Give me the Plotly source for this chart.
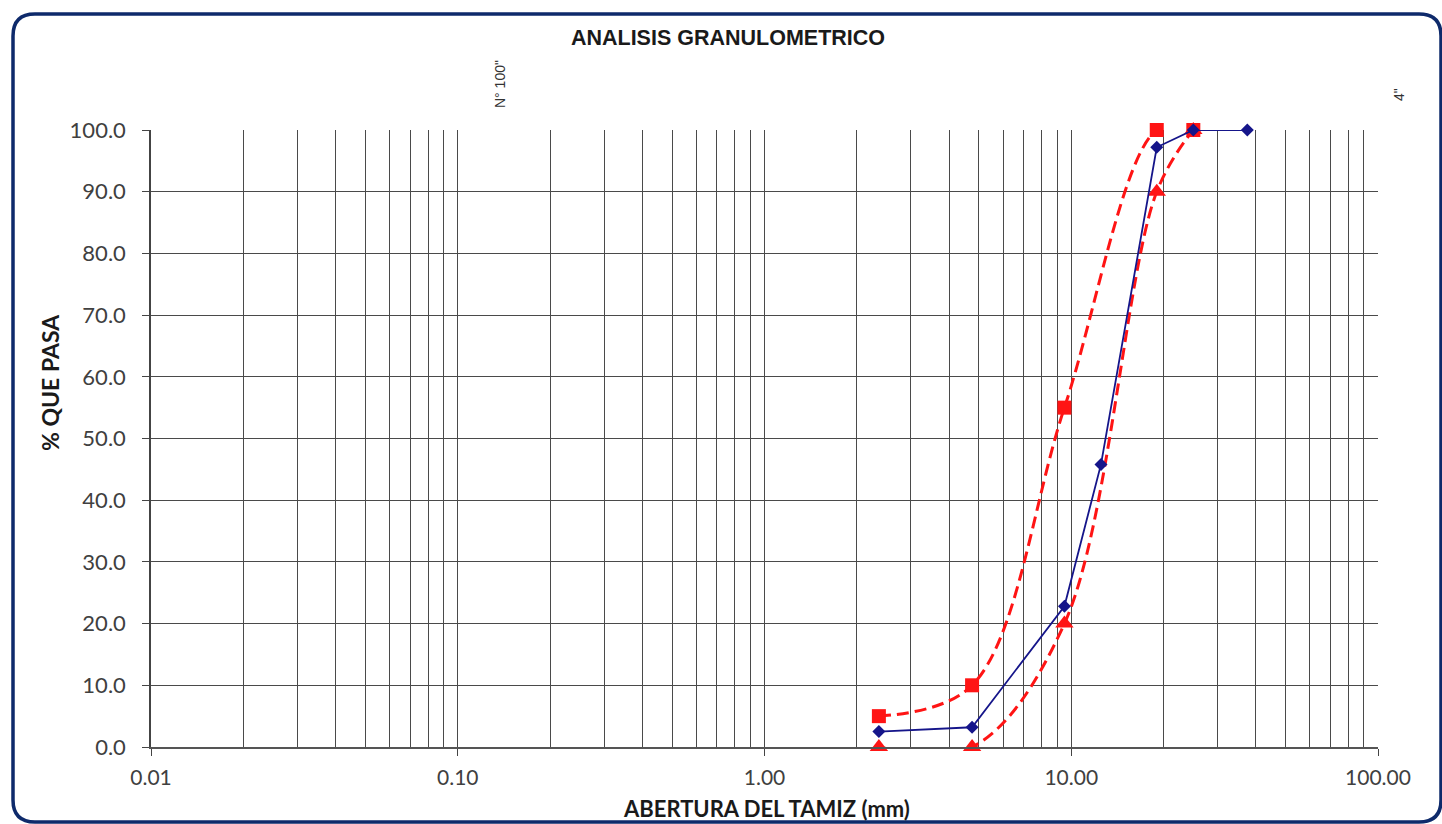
import plotly.graph_objects as go

# ---- data ----
abertura_muestra = [2.36, 4.75, 9.5, 12.5, 19.0, 25.0, 37.5]
pasa_muestra = [2.5, 3.2, 22.8, 45.8, 97.2, 100.0, 100.0]

abertura_lim = [2.36, 4.75, 9.5, 19.0, 25.0]
lim_superior = [5.0, 10.0, 55.0, 100.0, 100.0]
lim_inferior = [0.0, 0.0, 20.0, 90.0, 100.0]

x_tickvals = [0.01, 0.1, 1, 10, 100]
x_ticktext = ["0.01", "0.10", "1.00", "10.00", "100.00"]
y_tickvals = [0, 10, 20, 30, 40, 50, 60, 70, 80, 90, 100]

W, H = 1442, 824
L, R, T, B = 151, 64, 130, 77
pw, ph = W - L - R, H - T - B


def px(xp):
    return (xp - L) / pw


def py(yp):
    return (H - B - yp) / ph


RED = "#ff1414"
BLUE = "#15158a"
FONT = "Lato, Open Sans, sans-serif"
DASH = dict(color=RED, width=3, dash="12px,6px", shape="spline", smoothing=1.0)

fig = go.Figure()
# limit curves (lines clipped to the plot area)
fig.add_trace(go.Scatter(x=abertura_lim, y=lim_superior, mode="lines", line=DASH,
                         name="Límite superior", showlegend=False))
fig.add_trace(go.Scatter(x=abertura_lim, y=lim_inferior, mode="lines", line=DASH,
                         name="Límite inferior", showlegend=False))
# limit markers (not clipped)
fig.add_trace(go.Scatter(x=abertura_lim, y=lim_superior, mode="markers", cliponaxis=False,
                         marker=dict(symbol="square", size=14, color=RED),
                         name="Límite superior", showlegend=False))
fig.add_trace(go.Scatter(x=abertura_lim, y=lim_inferior, mode="markers", cliponaxis=False,
                         marker=dict(symbol="triangle-up", size=16, color=RED),
                         name="Límite inferior", showlegend=False))
fig.add_trace(go.Scatter(
    x=abertura_muestra, y=pasa_muestra, mode="lines+markers", cliponaxis=False,
    line=dict(color=BLUE, width=1.8),
    marker=dict(symbol="diamond", size=10, color=BLUE),
    name="Muestra", showlegend=False))

GRID = "#4a4a4a"
fig.update_xaxes(
    type="log", range=[-2, 2],
    tickvals=x_tickvals, ticktext=x_ticktext,
    ticks="outside", ticklen=7, tickcolor="#444", tickwidth=1,
    ticklabelstandoff=4,
    showgrid=True, gridcolor=GRID, gridwidth=1,
    minor=dict(dtick="D1", showgrid=True, gridcolor=GRID, gridwidth=1, ticks=""),
    showline=True, linecolor="#555", linewidth=1.5, mirror=False,
    zeroline=False,
    tickfont=dict(family=FONT, size=21, color="#404040"),
)
fig.update_yaxes(
    range=[0, 100], tickvals=y_tickvals, tickformat=".1f",
    ticks="outside", ticklen=7, tickcolor="#444", tickwidth=1,
    ticklabelstandoff=12,
    showgrid=True, gridcolor=GRID, gridwidth=1,
    showline=True, linecolor="#444", linewidth=1.5,
    zeroline=False,
    tickfont=dict(family=FONT, size=22, color="#404040"),
)

title_font = dict(family=FONT, size=22, color="#1a1a1a")
fig.add_annotation(text="<b>ABERTURA DEL TAMIZ (mm)</b>", x=px(766), y=py(808),
                   xref="paper", yref="paper", xanchor="center", yanchor="middle",
                   showarrow=False, font=title_font)
fig.add_annotation(text="<b>% QUE PASA</b>", x=px(50), y=py(383), xref="paper", yref="paper",
                   xanchor="center", yanchor="middle", textangle=-90, showarrow=False,
                   font=dict(family=FONT, size=23, color="#1a1a1a"))

# rounded frame
x0, x1 = px(13), px(1441)
y0, y1 = py(14), py(822)
rx, ry = 22 / pw, 22 / ph
path = (f"M {x0+rx},{y0} L {x1-rx},{y0} Q {x1},{y0} {x1},{y0-ry} "
        f"L {x1},{y1+ry} Q {x1},{y1} {x1-rx},{y1} "
        f"L {x0+rx},{y1} Q {x0},{y1} {x0},{y1+ry} "
        f"L {x0},{y0-ry} Q {x0},{y0} {x0+rx},{y0} Z")
fig.add_shape(type="path", path=path, xref="paper", yref="paper",
              line=dict(color="#0e2a6b", width=3.5), layer="above")

ann_font = dict(family="Liberation Sans, Arial, sans-serif", size=14, color="#333")
fig.add_annotation(text='N° 100"', x=px(500), y=py(84), xref="paper", yref="paper",
                   xanchor="center", yanchor="middle",
                   textangle=-90, showarrow=False, font=ann_font)
fig.add_annotation(text='4"', x=px(1399), y=py(95), xref="paper", yref="paper",
                   xanchor="center", yanchor="middle",
                   textangle=-90, showarrow=False, font=ann_font)

fig.update_layout(
    width=W, height=H,
    margin=dict(l=L, r=R, t=T, b=B),
    paper_bgcolor="white", plot_bgcolor="white",
    title=dict(text="<b>ANALISIS GRANULOMETRICO</b>", x=728 / W, xanchor="center",
               y=1 - 37 / H, yanchor="middle",
               font=dict(family="Liberation Sans Narrow, Arial Narrow, Liberation Sans, sans-serif",
                         size=21.5, color="#1a1a1a")),
)

fig.write_html("out.html")
